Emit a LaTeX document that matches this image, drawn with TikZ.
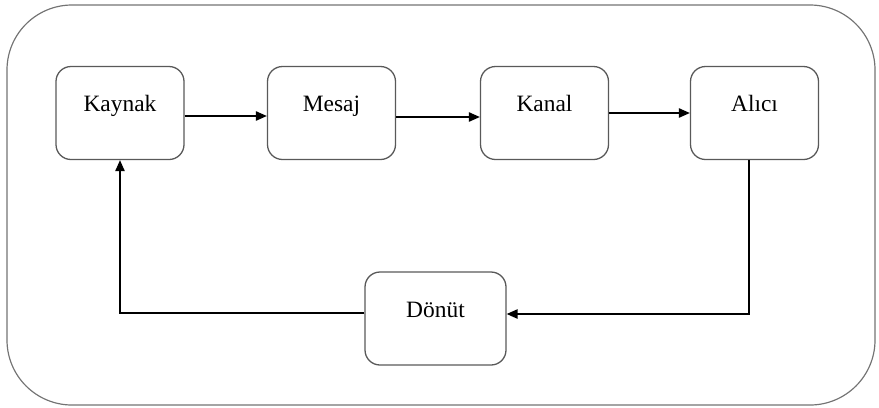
\documentclass[tikz,border=0pt]{standalone}
\usepackage{fontspec}
\setmainfont{Liberation Serif}
\usetikzlibrary{positioning}
\usetikzlibrary{arrows.meta}

\begin{document}
\begin{tikzpicture}[x=0.03cm, y=-0.03cm,
    every node/.style={rectangle, rounded corners=0.45cm, draw=black!65, line width=1.1pt,
        minimum width=3.84cm, minimum height=2.79cm, text height=13.5pt, text depth=15.5pt,
        font=\fontsize{20}{23}\selectfont},
    flow/.style={line width=1.3pt, -{Triangle[length=0.33cm, width=0.28cm]}}]

    \useasboundingbox (0,0) rectangle (879,407);
    \draw[black!55, line width=1pt, rounded corners=1.95cm] (7,5) rectangle (875,405);

    \node at (120,113) (kaynak) {Kaynak};
    \node at (331.5,113) (mesaj) {Mesaj};
    \node at (544.5,113) (kanal) {Kanal};
    \node at (754.5,113) (alici) {Alıcı};
    \node[minimum width=4.23cm] at (435.5,318.5) (donut) {Dönüt};

    \draw[flow] ([yshift=-0.09cm]kaynak.east) -- ([yshift=-0.09cm]mesaj.west);
    \draw[flow] ([yshift=-0.12cm]mesaj.east) -- ([yshift=-0.12cm]kanal.west);
    \draw[flow] (kanal.east) -- (alici.west);

    \draw[flow] ([xshift=-0.165cm]alici.south) |- ([yshift=0.135cm]donut.east);
    \draw[flow] ([yshift=0.165cm]donut.west) -| (kaynak.south);
\end{tikzpicture}
\end{document}
